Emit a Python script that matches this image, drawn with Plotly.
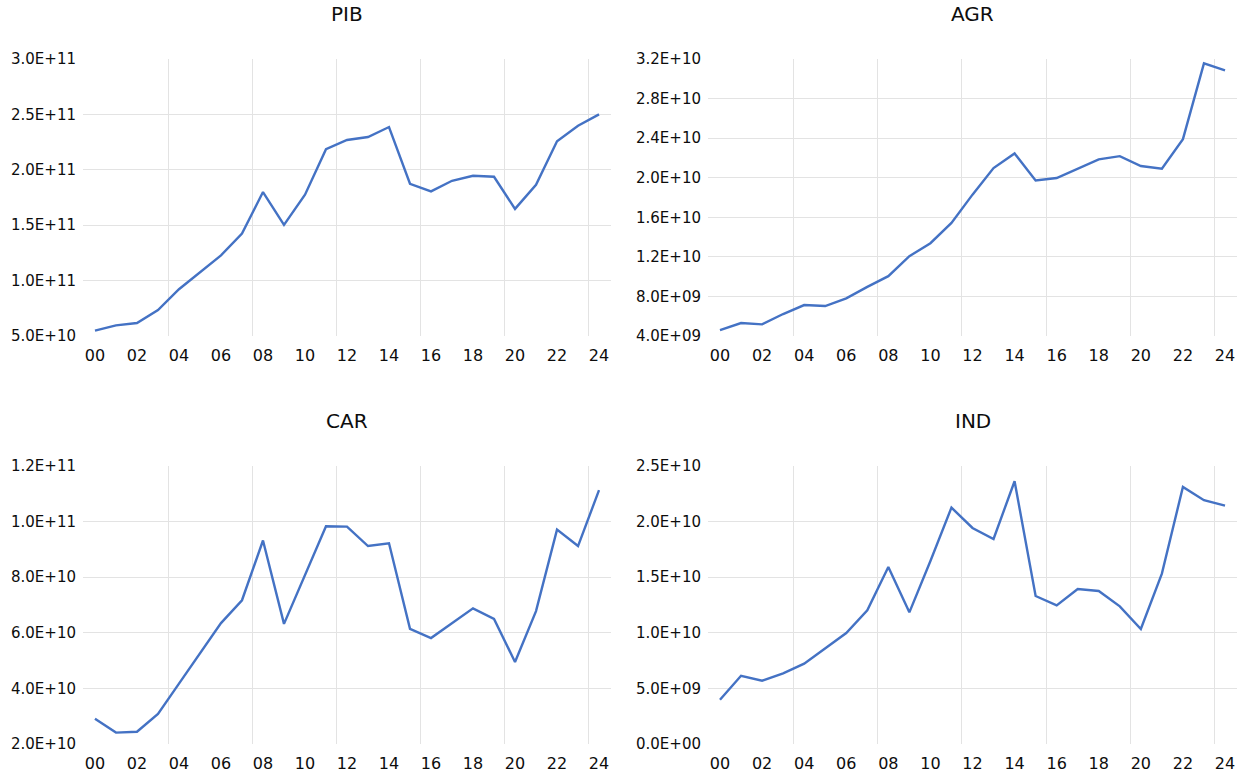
import plotly.graph_objects as go

# Years on the horizontal axis and their two-digit labels
years = list(range(2000, 2025))
year_ticks = list(range(2000, 2025, 2))
year_labels = [f"{y % 100:02d}" for y in year_ticks]
vgrid_years = [2003.5, 2007.5, 2011.5, 2015.5, 2019.5, 2023.5]

# Series
pib = [5.48e10, 5.96e10, 6.17e10, 7.34e10, 9.22e10, 1.072e11, 1.228e11, 1.425e11,
       1.799e11, 1.503e11, 1.775e11, 2.186e11, 2.269e11, 2.296e11, 2.386e11,
       1.874e11, 1.805e11, 1.901e11, 1.946e11, 1.937e11, 1.647e11, 1.865e11,
       2.257e11, 2.398e11, 2.500e11]
agr = [4.60e9, 5.31e9, 5.18e9, 6.22e9, 7.13e9, 7.03e9, 7.80e9, 8.97e9, 1.005e10,
       1.207e10, 1.338e10, 1.543e10, 1.829e10, 2.097e10, 2.245e10, 1.973e10,
       1.997e10, 2.091e10, 2.185e10, 2.218e10, 2.118e10, 2.091e10, 2.390e10,
       3.156e10, 3.086e10]
car = [2.91e10, 2.41e10, 2.44e10, 3.08e10, 4.17e10, 5.26e10, 6.35e10, 7.17e10,
       9.32e10, 6.32e10, 8.07e10, 9.83e10, 9.82e10, 9.12e10, 9.22e10, 6.14e10,
       5.81e10, 6.35e10, 6.88e10, 6.50e10, 4.95e10, 6.78e10, 9.71e10, 9.12e10,
       1.113e11]
ind = [3.98e9, 6.14e9, 5.69e9, 6.35e9, 7.22e9, 8.57e9, 9.98e9, 1.202e10, 1.592e10,
       1.184e10, 1.646e10, 2.126e10, 1.943e10, 1.844e10, 2.363e10, 1.331e10,
       1.247e10, 1.394e10, 1.376e10, 1.238e10, 1.034e10, 1.532e10, 2.312e10,
       2.192e10, 2.144e10]

# Value-axis ticks for each panel
pib_ticks = [5e10, 1e11, 1.5e11, 2e11, 2.5e11, 3e11]
pib_labels = ["5.0E+10", "1.0E+11", "1.5E+11", "2.0E+11", "2.5E+11", "3.0E+11"]
agr_ticks = [4e9, 8e9, 1.2e10, 1.6e10, 2e10, 2.4e10, 2.8e10, 3.2e10]
agr_labels = ["4.0E+09", "8.0E+09", "1.2E+10", "1.6E+10", "2.0E+10", "2.4E+10",
              "2.8E+10", "3.2E+10"]
car_ticks = [2e10, 4e10, 6e10, 8e10, 1e11, 1.2e11]
car_labels = ["2.0E+10", "4.0E+10", "6.0E+10", "8.0E+10", "1.0E+11", "1.2E+11"]
ind_ticks = [0, 5e9, 1e10, 1.5e10, 2e10, 2.5e10]
ind_labels = ["0.0E+00", "5.0E+09", "1.0E+10", "1.5E+10", "2.0E+10", "2.5E+10"]

W, H = 1238, 780
LINE = "#4472C4"
GRID = "#e3e3e3"
TXT = "#0d0d0d"
FONT = "DejaVu Sans"

left_dom = [83 / W, 611 / W]
right_dom = [708 / W, 1237 / W]
top_dom = [1 - 336 / H, 1 - 59 / H]
bot_dom = [1 - 744 / H, 1 - 466 / H]

panels = [
    ("PIB", pib, pib_ticks, pib_labels, left_dom, top_dom),
    ("AGR", agr, agr_ticks, agr_labels, right_dom, top_dom),
    ("CAR", car, car_ticks, car_labels, left_dom, bot_dom),
    ("IND", ind, ind_ticks, ind_labels, right_dom, bot_dom),
]

xrange_ = [1999.43, 2024.57]
fig = go.Figure()
layout = {}
annotations = []

for i, (title, vals, yt, yl, xd, yd) in enumerate(panels, start=1):
    g = i + 4  # subplot holding the line and the light interior grid
    sx = "" if i == 1 else str(i)
    yr = [yt[0], yt[-1]]
    # the series line, on the gridded axes
    fig.add_trace(go.Scatter(
        x=years, y=vals, mode="lines",
        line=dict(color=LINE, width=2.4),
        xaxis=f"x{g}", yaxis=f"y{g}", showlegend=False,
        hoverinfo="skip",
    ))
    # same series bound to the labelled axes (kept transparent) so they render
    fig.add_trace(go.Scatter(
        x=years, y=vals, mode="lines", opacity=0,
        line=dict(color=LINE, width=1),
        xaxis=f"x{sx}", yaxis=f"y{sx}", showlegend=False,
        hoverinfo="skip",
    ))
    layout[f"xaxis{g}"] = dict(
        domain=xd, anchor=f"y{g}", range=xrange_, automargin=False,
        tickmode="array", tickvals=vgrid_years, showticklabels=False,
        showgrid=True, gridcolor=GRID, gridwidth=1,
        zeroline=False, showline=False, ticks="",
    )
    layout[f"yaxis{g}"] = dict(
        domain=yd, anchor=f"x{g}", range=yr, automargin=False,
        tickmode="array", tickvals=yt[1:-1], showticklabels=False,
        showgrid=True, gridcolor=GRID, gridwidth=1,
        zeroline=False, showline=False, ticks="",
    )
    # labelled axes sharing the same area
    layout[f"xaxis{sx}"] = dict(
        domain=xd, anchor=f"y{sx}", range=xrange_, automargin=False,
        tickmode="array", tickvals=year_ticks, ticktext=year_labels,
        showgrid=False, zeroline=False, showline=False, ticks="",
        ticklabelstandoff=8,
        tickfont=dict(family=FONT, size=16, color=TXT),
    )
    layout[f"yaxis{sx}"] = dict(
        domain=yd, anchor=f"x{sx}", range=yr, automargin=False,
        tickmode="array", tickvals=yt, ticktext=yl,
        showgrid=False, zeroline=False, showline=False, ticks="",
        ticklabelstandoff=6,
        tickfont=dict(family=FONT, size=15, color=TXT),
    )
    annotations.append(dict(
        text=title, xref="paper", yref="paper",
        x=(xd[0] + xd[1]) / 2, y=yd[1] + (45 / H),
        xanchor="center", yanchor="middle", showarrow=False,
        font=dict(family=FONT, size=20, color=TXT),
    ))

fig.update_layout(
    width=W, height=H,
    margin=dict(l=0, r=0, t=0, b=0, autoexpand=False),
    paper_bgcolor="white", plot_bgcolor="rgba(0,0,0,0)",
    annotations=annotations,
    **layout,
)

fig.write_html("out.html")
